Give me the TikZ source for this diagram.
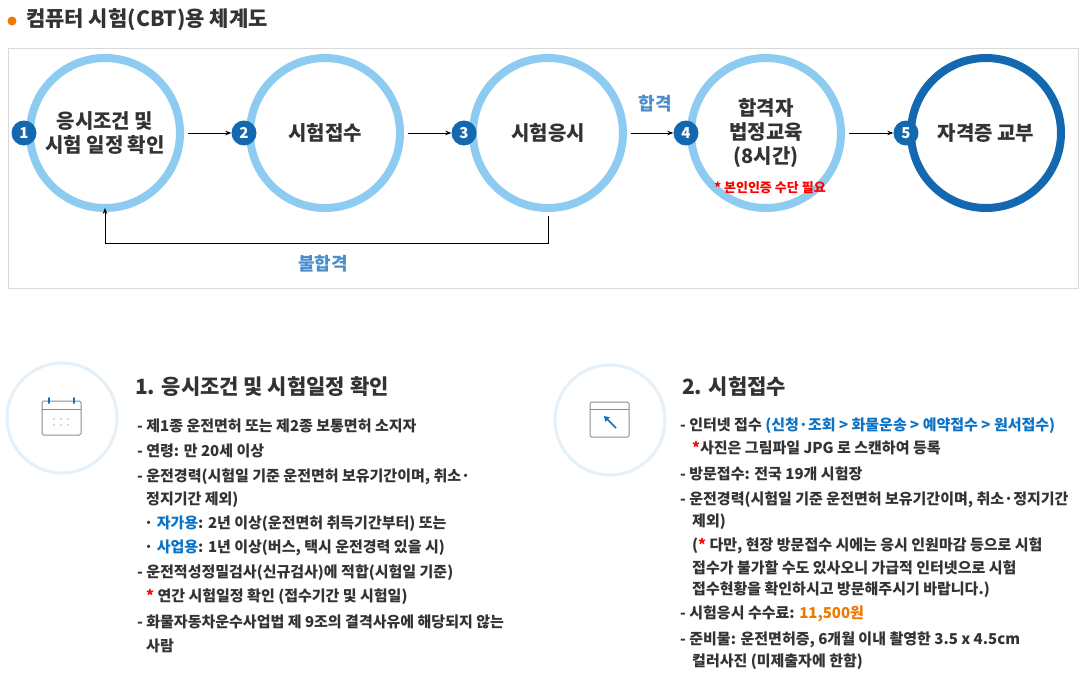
\documentclass[tikz,border=0pt]{standalone}
\usepackage{fontspec}
\setmainfont{Noto Sans CJK KR}
\usetikzlibrary{arrows.meta}
\definecolor{ring}{HTML}{8DCBF0}
\definecolor{dblue}{HTML}{1468B0}
\definecolor{txt}{HTML}{333333}
\definecolor{lblue}{HTML}{0A73C7}
\definecolor{orng}{HTML}{F07800}
\definecolor{pale}{HTML}{E5F0F8}
\definecolor{failc}{HTML}{4A8FCC}
\tikzset{
 x=1pt,y=-1pt,
 ring/.style={circle,draw=ring,line width=8pt,minimum size=150pt,inner sep=0pt,font=\fontsize{20}{24}\selectfont\bfseries,text=txt,align=center},
 badge/.style={circle,fill=dblue,text=white,minimum size=25pt,inner sep=0pt,font=\fontsize{15}{15}\selectfont\bfseries},
 arr/.style={-{Stealth[length=6pt]},line width=0.7pt,black},
 body/.style={anchor=west,inner sep=0pt,text=txt,font=\fontsize{15}{17}\selectfont\bfseries},
 head/.style={anchor=west,inner sep=0pt,text=txt,font=\fontsize{21}{24}\selectfont\bfseries},
 icon/.style={circle,draw=pale,line width=3pt,minimum size=110pt,inner sep=0pt}
}
\begin{document}
\begin{tikzpicture}
\useasboundingbox (0,0) rectangle (1088,680);
\fill[white] (0,0) rectangle (1088,680);
\node[circle,fill=orng,inner sep=0pt,minimum size=9pt] (dot) at (12,21) {};
\node[anchor=west,inner sep=0pt,text=txt,font=\fontsize{21}{24}\selectfont\bfseries] (title) at (26,20) {컴퓨터 시험(CBT)용 체계도};
\draw[draw=black!15] (8,48) rectangle (1078,288);
\node[ring] (c1) at (105,133) {응시조건 및\\시험 일정 확인};
\node[ring] (c2) at (325,133) {시험접수};
\node[ring] (c3) at (548,133) {시험응시};
\node[ring] (c4) at (766,133) {합격자\\법정교육\\(8시간)};
\node[ring,draw=dblue] (c5) at (986,133) {자격증 교부};
\node[badge] (b1) at (24,133) {1};
\node[badge] (b2) at (244,133) {2};
\node[badge] (b3) at (464,133) {3};
\node[badge] (b4) at (686,133) {4};
\node[badge] (b5) at (906,133) {5};
\draw[arr] (c1.east) ++(4,0) coordinate (a1) -- (b2.west);
\draw[arr] (c2.east) ++(4,0) coordinate (a2) -- (b3.west);
\draw[arr] (c3.east) ++(4,0) coordinate (a3) -- (b4.west);
\draw[arr] (c4.east) ++(4,0) coordinate (a4) -- (b5.west);
\node[text=failc,font=\fontsize{18}{18}\selectfont\bfseries] (pass) at (655,104) {합격};
\node[text=red,font=\fontsize{13}{13}\selectfont\bfseries] (note4) at (770,188) {* 본인인증 수단 필요};
\coordinate (f1) at (548,243);
\coordinate (f2) at (105,243);
\draw[arr] (c3.south) ++(0,4) coordinate (f0) -- (f1) -- (f2) -- ([yshift=4pt]c1.south);
\node[text=failc,font=\fontsize{18}{18}\selectfont\bfseries] (fail) at (323,264) {불합격};
% icons
\node[icon] (i1) at (62,418) {};
\draw[black!45,line width=1pt,rounded corners=1.5pt] (42,401) rectangle (81,435);
\draw[black!45,line width=0.8pt] (42,409) -- (81,409);
\draw[lblue,line width=2pt,line cap=round] (49,398) -- (49,403) (74,398) -- (74,403);
\foreach \xx in {54,61,68} { \fill[lblue] (\xx,419) circle (0.7); \fill[lblue] (\xx,425) circle (0.7); }
\node[icon] (i2) at (610,420) {};
\draw[black!45,line width=1pt,rounded corners=1.5pt] (590,402) rectangle (629,437);
\draw[black!45,line width=0.8pt] (590,409) -- (629,409);
\draw[-{Triangle[length=5pt,width=6pt]},lblue,line width=1.6pt] (616,428) -- (604,416);
% left text
\node[head] (h1) at (135,387) {1. 응시조건 및 시험일정 확인};
\node[body] (l1) at (137,426) {- 제1종 운전면허 또는 제2종 보통면허 소지자};
\node[body] (l2) at (137,451) {- 연령: 만 20세 이상};
\node[body] (l3) at (137,477) {- 운전경력(시험일 기준 운전면허 보유기간이며, 취소·};
\node[body] (l4) at (146,500) {정지기간 제외)};
\node[body] (l5) at (144,524) {· \textcolor{lblue}{자가용}: 2년 이상(운전면허 취득기간부터) 또는};
\node[body] (l6) at (144,548) {· \textcolor{lblue}{사업용}: 1년 이상(버스, 택시 운전경력 있을 시)};
\node[body] (l7) at (137,573) {- 운전적성정밀검사(신규검사)에 적합(시험일 기준)};
\node[body] (l8) at (146,597) {\textcolor{red}{*} 연간 시험일정 확인 (접수기간 및 시험일)};
\node[body] (l9) at (137,622) {- 화물자동차운수사업법 제 9조의 결격사유에 해당되지 않는};
\node[body] (l10) at (146,646) {사람};
% right text
\node[head] (h2) at (682,387) {2. 시험접수};
\node[body] (r1) at (680,426) {- 인터넷 접수 \textcolor{lblue}{(신청·조회 > 화물운송 > 예약접수 > 원서접수)}};
\node[body] (r2) at (692,448) {\textcolor{red}{*}사진은 그림파일 JPG 로 스캔하여 등록};
\node[body] (r3) at (680,474) {- 방문접수: 전국 19개 시험장};
\node[body] (r4) at (680,500) {- 운전경력(시험일 기준 운전면허 보유기간이며, 취소·정지기간};
\node[body] (r5) at (692,522) {제외)};
\node[body] (r6) at (692,546) {(\textcolor{red}{*} 다만, 현장 방문접수 시에는 응시 인원마감 등으로 시험};
\node[body] (r7) at (692,568) {접수가 불가할 수도 있사오니 가급적 인터넷으로 시험};
\node[body] (r8) at (692,590) {접수현황을 확인하시고 방문해주시기 바랍니다.)};
\node[body] (r9) at (680,614) {- 시험응시 수수료: \textcolor{orng}{11,500원}};
\node[body] (r10) at (680,640) {- 준비물: 운전면허증, 6개월 이내 촬영한 3.5 x 4.5cm};
\node[body] (r11) at (692,662) {컬러사진 (미제출자에 한함)};
\end{tikzpicture}
\end{document}
